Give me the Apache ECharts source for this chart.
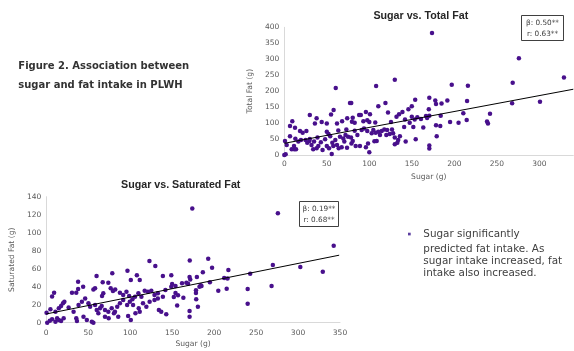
<!DOCTYPE html>
<html>
<head>
<meta charset="utf-8">
<script src="https://cdn.jsdelivr.net/npm/echarts@6/dist/echarts.min.js"></script>
<style>html,body{margin:0;padding:0;background:#fff}#c{width:574px;height:351px}</style>
</head>
<body>
<div id="c"></div>
<script>
// ---- Data (sugar g, fat g) ----
const totalFatPoints = [
[173.8,382],[276,303],[329,243],[268.7,226],[197,220],[216,217],[154,173],[170.6,179],[177.6,171],[178.5,160],
[185,161],[191.8,171],[215,169],[268,162],[300.8,167],[150,153],[170,143],[150,120],[156.5,118],[160.8,113],
[166.7,122],[168,116],[170.6,123],[153.4,111],[184,123],[210.6,131],[242,129],[151.8,88],[163.5,86],[178.5,93],
[183.5,91],[195,103],[205,101],[214.6,110],[238.5,105],[239.6,99],[154.6,49],[179.3,59],[170.6,30],[170.6,20],
[130,236],[60.5,210],[108,216],[77.3,163],[78.8,163],[119,163],[110.6,153],[58,141],[30,125],[55,127],
[38,115],[36,99],[9.4,106],[44,103],[50,99],[62,99],[68,106],[74,115],[80.5,117],[79.6,104],
[82.8,101],[88,125],[90,125],[96,135],[100.8,128],[97.6,109],[100,103],[107,102],[93,106],[122,133],
[135,128],[139,135],[146,143],[142,111],[132,120],[125.5,103],[147.5,101],[141,88],[6.7,91],[12.6,85],
[18.5,75],[21.6,70],[26,75],[0.8,44],[6.7,59],[13,51],[16.5,42],[19.6,47],[25,47],[30,50],
[35,42],[39,55],[43,40],[48,49],[52,66],[54,59],[56.5,38],[60,47],[63.5,77],[65.5,57],
[70.6,42],[73,80],[75,57],[80.5,44],[82.8,76],[86,62.5],[91,78],[93.8,83],[97.6,75],[102.8,68],
[104.7,78],[107.5,70],[110.6,73],[114.6,75],[108.7,44],[117.6,80],[121,78],[126.7,80],[128,68],[130,55],
[134,47],[133,38],[136,59],[142.8,42],[2.8,31],[8.7,18],[11.8,18],[13.8,18],[1.6,2],[0,0],
[32,31],[34,18],[38,21],[40,28],[45,16],[50,28],[52.6,21],[55.8,3],[57.6,28],[62,31],
[64,21],[67.5,24],[73.8,23],[79,36],[84,28],[89,28],[96,24],[100,9],[98.5,36],[106,43],
[112.6,62.5],[120,62.5],[124,66],[130,34],[11.4,28],[29.4,44],[27,38],[50,73],[69.4,52],[72,62.5],
[78.5,55]
];
const satFatPoints = [
[174,127],[276,121.5],[342.5,85.5],[171,69],[193,71],[197.6,61],[217,58.5],[270,64],[302.7,62],[329.5,56.7],
[186.6,56],[149,52.6],[170.8,50.8],[171.6,48],[179.5,50.8],[212,49.7],[216,49],[243,54.4],[167,44.4],[169,43.3],
[161.8,43.8],[195,45],[184,41.5],[185,40.8],[182.6,40],[150,43],[154,40.8],[149,40],[205,35.6],[215,37.8],
[240,37.4],[268.5,40.8],[178.4,36],[178.4,33],[154,33],[157,30.4],[152,28.6],[163.4,27.8],[240,21],[178.7,26],
[180.7,17.8],[156,19],[170.8,13],[170.8,6.7],
[123,68.5],[130,63],[96.8,57.8],[139,52],[60,52],[78.7,54.9],[38,45.6],[67.3,44.9],[74,44.4],[108,52.7],
[111.4,47.4],[100.8,47.4],[9.4,33.3],[7,29],[30.7,33.3],[35.8,33.3],[56.2,37],[58.2,38.2],[68,32.7],[66.5,29.7],
[76.8,38.2],[79.5,35.2],[82.2,37],[87.8,33.3],[91.7,30.8],[95.6,34.4],[98.8,29.7],[102.7,26],[105.8,28.9],[109.8,32.7],
[113.4,28.9],[117.3,35.6],[121.2,34.4],[125.2,35.6],[129,30.8],[133,32.7],[139,28.9],[142,36.3],[38,37.5],[44,40],
[0.4,11],[5,14.9],[11,12.2],[15,16],[17.7,18.6],[20,21.5],[21.6,23.3],[26.7,17],[32.6,12.2],[38.5,19.7],
[42.5,23.3],[46.4,27],[50.3,21.5],[52.3,17.8],[58.2,19.7],[60.2,14.1],[62.1,10.4],[64.1,16],[66.1,18.6],[70,14.1],
[74,12.2],[78,16],[81.9,12.2],[84.6,17.8],[87.8,21.5],[91.7,25.2],[96.4,19.7],[99.6,23.3],[103.5,19.7],[106.3,10.4],
[110.2,16],[115.3,21.5],[119.3,17.8],[100.8,3],[123.2,23.3],[129,25.2],[133,27],[134.2,14.1],[137,12.2],[143,9.3],
[1.2,0],[4.3,2.2],[7,3.8],[11,1.1],[13,4.9],[15,3],[20.8,4.9],[17.7,1.9],[35.8,4.9],[36.6,1.9],
[44.4,6.7],[48.4,3],[54.3,1.1],[56.2,0],[70,6.7],[74.4,4.9],[80.7,10.4],[85.8,6.7],[97.6,7.4],[111.4,12.2]
];
// fitted lines (endpoints)
const totalFatTrend = [[0,36.6],[340,206]];
const satFatTrend = [[0,9.7],[349,75]];
const statsTotal = ['β: 0.50**','r: 0.63**'];
const statsSat = ['β: 0.19**','r: 0.68**'];
const titles = ['Sugar vs. Total Fat','Sugar vs. Saturated Fat'];
const captionLines = ['Figure 2. Association between','sugar and fat intake in PLWH'];
const bulletLines = ['Sugar significantly','predicted fat intake. As','sugar intake increased, fat','intake also increased.'];

const tickFont = {color:'#595959', fontSize:7.5, fontFamily:'DejaVu Sans'};
const nameFont = {color:'#595959', fontSize:7.6, fontFamily:'DejaVu Sans'};
const dotColor = '#48108c';

function xAx(gi, max, nameGap, margin){
  return {gridIndex:gi, type:'value', min:0, max:max, interval:50,
    name:'Sugar (g)', nameLocation:'middle', nameGap:nameGap, nameTextStyle:nameFont,
    axisLine:{show:true, lineStyle:{color:'#d9d9d9', width:1}}, axisTick:{show:false},
    splitLine:{show:false}, axisLabel:Object.assign({margin:margin, showMaxLabel: gi===0 ? false : true}, tickFont)};
}
function yAx(gi, name, max, interval){
  return {gridIndex:gi, type:'value', min:0, max:max, interval:interval,
    name:name, nameLocation:'middle', nameGap:20, nameTextStyle:nameFont,
    axisLine:{show:true, lineStyle:{color:'#d9d9d9', width:1}}, axisTick:{show:false},
    splitLine:{show:false}, axisLabel:Object.assign({margin:5}, tickFont)};
}
function statBox(x, y, w, h, lines){
  return {type:'group', children:[
    {type:'rect', shape:{x:x, y:y, width:w, height:h}, style:{fill:'#fff', stroke:'#404040', lineWidth:1}},
    {type:'text', x:x+w/2, y:y+7.3, style:{text:lines[0], fill:'#404040', font:'7.3px "DejaVu Sans"', textAlign:'center', textVerticalAlign:'middle'}},
    {type:'text', x:x+w/2, y:y+18.3, style:{text:lines[1], fill:'#404040', font:'7.3px "DejaVu Sans"', textAlign:'center', textVerticalAlign:'middle'}}
  ]};
}

const chart = echarts.init(document.getElementById('c'), null, {renderer:'canvas'});
const graphics = [
  {type:'text', x:420.8, y:15.7, style:{text:titles[0], fill:'#262626', font:'bold 10.7px "Liberation Sans"', textAlign:'center', textVerticalAlign:'middle'}},
  {type:'text', x:180.7, y:185, style:{text:titles[1], fill:'#262626', font:'bold 10.7px "Liberation Sans"', textAlign:'center', textVerticalAlign:'middle'}},
  statBox(521.5, 15.5, 42, 25, statsTotal),
  statBox(299.5, 201.5, 39, 25, statsSat),
  {type:'text', x:18.3, y:66.7, style:{text:captionLines[0], fill:'#333333', font:'bold 10px "DejaVu Sans"', textAlign:'left', textVerticalAlign:'middle'}},
  {type:'text', x:18.3, y:85, style:{text:captionLines[1], fill:'#333333', font:'bold 10px "DejaVu Sans"', textAlign:'left', textVerticalAlign:'middle'}},
  {type:'rect', shape:{x:408, y:232.7, width:2.7, height:2.7}, style:{fill:'#5b3ea0'}}
];
const bulletY = [234, 249.3, 261.7, 273.3];
bulletLines.forEach((t,i)=>graphics.push({type:'text', x:423.3, y:bulletY[i],
  style:{text:t, fill:'#404040', font:'10.4px "DejaVu Sans"', textAlign:'left', textVerticalAlign:'middle'}}));

chart.setOption({
  animation:false,
  grid:[
    {left:284.3, top:27.3, width:289, height:127.7},
    {left:43.7, top:196.7, width:296.3, height:126}
  ],
  xAxis:[xAx(0, 340, 18, 5), xAx(1, 350, 17, 6)],
  yAxis:[yAx(0,'Total Fat (g)',400,50), yAx(1,'Saturated Fat (g)',140,20)],
  series:[
    {type:'scatter', xAxisIndex:0, yAxisIndex:0, data:totalFatPoints, symbolSize:4.5, itemStyle:{color:dotColor, opacity:1}, silent:true},
    {type:'line', xAxisIndex:0, yAxisIndex:0, data:totalFatTrend, symbol:'none', lineStyle:{color:'#000', width:1}, silent:true, z:3},
    {type:'scatter', xAxisIndex:1, yAxisIndex:1, data:satFatPoints, symbolSize:4.5, itemStyle:{color:dotColor, opacity:1}, silent:true},
    {type:'line', xAxisIndex:1, yAxisIndex:1, data:satFatTrend, symbol:'none', lineStyle:{color:'#000', width:1}, silent:true, z:3}
  ],
  graphic:graphics
});
</script>
</body>
</html>
